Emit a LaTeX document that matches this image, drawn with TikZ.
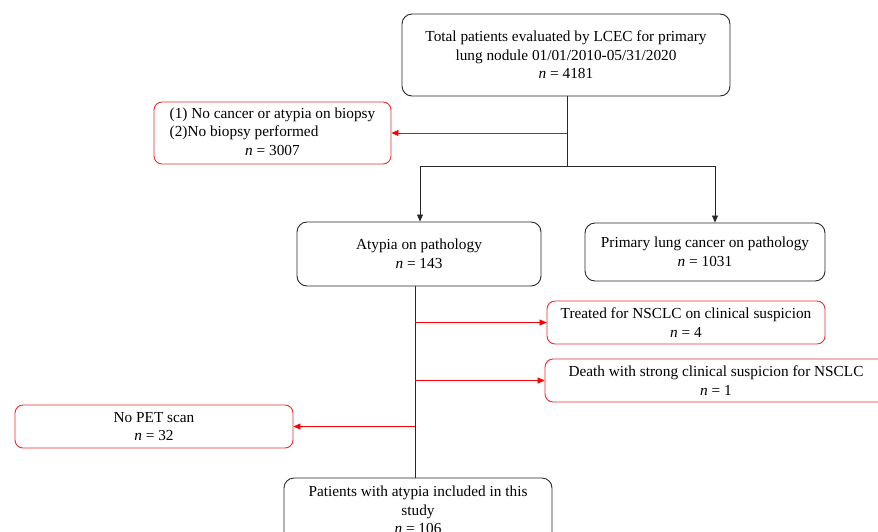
\documentclass[tikz,border=0pt]{standalone}
\usepackage{fontspec}
\setmainfont{Liberation Serif}
\usetikzlibrary{arrows.meta}
\definecolor{boxred}{RGB}{235,45,45}
\definecolor{linegray}{RGB}{40,40,40}
\tikzset{
  blackbox/.style={draw=linegray, line width=0.9pt, rounded corners=10pt, align=center, inner sep=0pt,
    font=\fontsize{15.3}{18.6}\selectfont},
  redbox/.style={draw=boxred, line width=0.9pt, rounded corners=8pt, align=center, inner sep=0pt,
    font=\fontsize{15.3}{18.6}\selectfont},
  blackline/.style={draw=linegray, line width=0.8pt},
  blackarrow/.style={blackline, -{Triangle[length=7pt,width=6pt]}},
  redarrow/.style={draw=red, line width=0.8pt, -{Triangle[length=7pt,width=6pt]}},
}
\begin{document}
\begin{tikzpicture}[x=1pt,y=-1pt]
\useasboundingbox (0,0) rectangle (878,531);
\clip (0,0) rectangle (878,531);
\node[blackbox, minimum width=328pt, minimum height=82pt] (top) at (566,55)
  {Total patients evaluated by LCEC for primary\\lung nodule 01/01/2010-05/31/2020\\\textit{n} = 4181};
\node[redbox, minimum width=237pt, minimum height=62pt] (nocancer) at (272.5,133)
  {\begin{tabular}{@{}l@{}}(1) No cancer or atypia on biopsy\\(2)No biopsy performed\\\multicolumn{1}{@{}c@{}}{\textit{n} = 3007}\end{tabular}};
\node[blackbox, minimum width=244pt, minimum height=64pt] (atypia) at (419,254)
  {Atypia on pathology\\\textit{n} = 143};
\node[blackbox, minimum width=240pt, minimum height=58pt] (primary) at (705,252)
  {Primary lung cancer on pathology\\\textit{n} = 1031};
\node[redbox, minimum width=278pt, minimum height=43pt] (treated) at (686,322.5)
  {Treated for NSCLC on clinical suspicion\\\textit{n} = 4};
\node[redbox, minimum width=342pt, minimum height=43pt] (death) at (716,380.5)
  {Death with strong clinical suspicion for NSCLC\\\textit{n} = 1};
\node[redbox, minimum width=278pt, minimum height=43pt] (nopet) at (154,426.5)
  {No PET scan\\\textit{n} = 32};
\node[blackbox, minimum width=268pt, minimum height=64pt] (included) at (418,510)
  {Patients with atypia included in this\\study\\\textit{n} = 106};
% top branch
\coordinate (split) at (567,166);
\coordinate (leftc) at (420,166);
\coordinate (rightc) at (715,166);
\coordinate (redtap) at (567,133);
\draw[blackline] (top.south -| split) -- (split);
\draw[blackline] (leftc) -- (rightc);
\draw[blackarrow] (leftc) -- (leftc |- atypia.north);
\draw[blackarrow] (rightc) -- (rightc |- primary.north);
\draw[redarrow] (redtap) -- (redtap -| nocancer.east);
% atypia trunk
\coordinate (trunk) at (415,0);
\draw[blackline] (trunk |- atypia.south) -- (trunk |- included.north);
\draw[redarrow] (trunk |- treated.west) -- (treated.west);
\draw[redarrow] (trunk |- death.west) -- (death.west);
\draw[redarrow] (trunk |- nopet.east) -- (nopet.east);
\end{tikzpicture}
\end{document}
